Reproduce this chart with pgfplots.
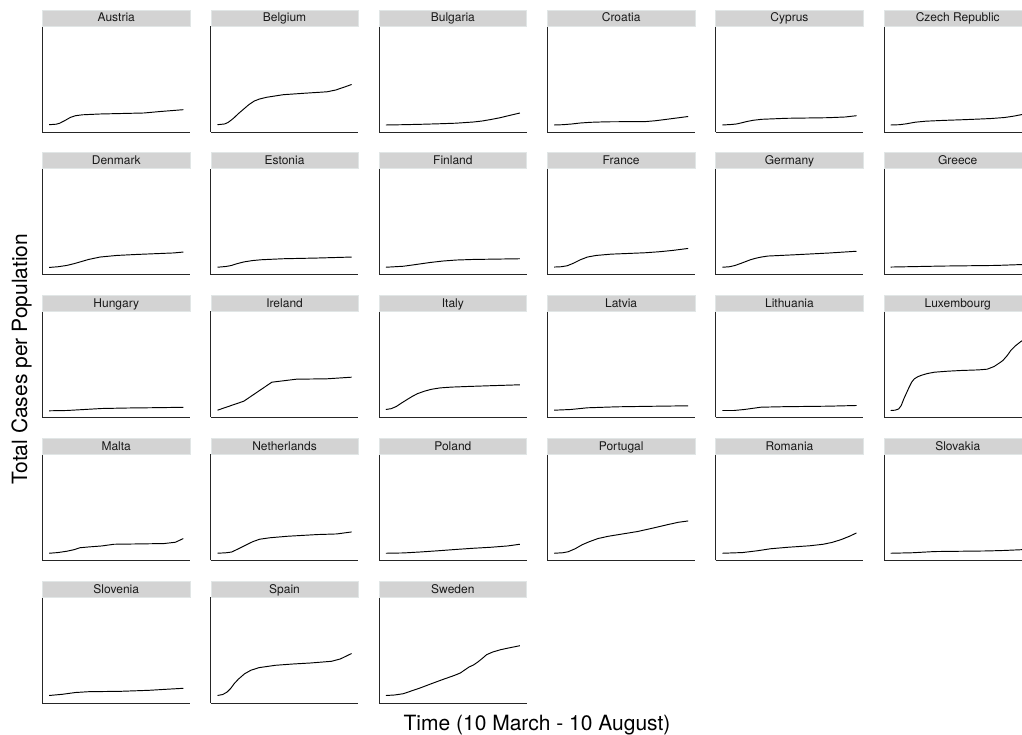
\documentclass[border=0pt]{standalone}
\usepackage{pgfplots}
\pgfplotsset{compat=1.18}
\usepackage{fontspec}
\setmainfont{TeX Gyre Heros}

\definecolor{stripgray}{RGB}{211,211,211}
\definecolor{stripedge}{RGB}{225,230,230}

% one facet: column, row, name, coordinates
\newcommand{\panel}[4]{%
\begin{axis}[
  at={({(42.5+168.3*#1)*1pt},{(602-142.75*#2)*1pt})},
  anchor=south west,
  scale only axis, width=147.5pt, height=106pt,
  xmin=-7.65, xmax=160.65, ymin=0, ymax=106,
  axis lines*=left,
  axis line style={black!85, line width=0.9pt},
  xtick=\empty, ytick=\empty,
  clip=false,
]
\fill[stripgray, draw=stripedge, line width=0.5pt] (rel axis cs:0,1) rectangle ([yshift=16pt]rel axis cs:1,1);
\node[anchor=base, inner sep=0, text=black!90, font=\fontsize{12}{14}\selectfont] at ([yshift=4pt]rel axis cs:0.5,1) {#3};
\addplot[black, line width=0.95pt, line join=round] coordinates {#4};
\end{axis}}

\begin{document}
\begin{tikzpicture}
% row 1
\panel{0}{0}{Austria}{(0,7.3) (8,7.8) (12,8.8) (18,11.5) (24,14.5) (30,16.3) (38,17.2) (58,18) (108,19) (127,20.5) (153,22.3)}
\panel{1}{0}{Belgium}{(0,7.3) (8,8) (12,9.5) (18,13.5) (24,18.5) (30,23) (36,27.5) (42,31) (48,33) (56,34.7) (75,37.3) (100,38.8) (125,40.2) (135,42) (145,45) (153,47.5)}
\panel{2}{0}{Bulgaria}{(0,7) (20,7.3) (40,7.7) (60,8.2) (80,8.8) (100,10) (110,11) (120,12.5) (130,14.2) (140,16.3) (153,19)}
\panel{3}{0}{Croatia}{(0,7) (10,7.3) (20,8) (30,9) (42,9.7) (60,10.2) (80,10.3) (104,10.4) (115,11.2) (125,12.3) (140,14) (153,15.5)}
\panel{4}{0}{Cyprus}{(0,7) (10,7.5) (16,8) (22,9.2) (28,10.5) (35,11.7) (45,12.7) (73,13.7) (121,14.3) (140,15) (153,16.3)}
\panel{5}{0}{Czech Republic}{(0,7) (10,7.3) (18,8.2) (28,9.8) (40,10.8) (60,11.6) (80,12.2) (100,12.9) (115,13.5) (130,14.5) (140,15.8) (153,18)}
% row 2
\panel{0}{1}{Denmark}{(0,7.3) (10,8) (20,9.3) (28,11) (36,13) (45,15.3) (58,17.7) (77,19.3) (100,20.3) (125,21.2) (142,21.8) (153,22.7)}
\panel{1}{1}{Estonia}{(0,7.5) (10,8.3) (16,9.3) (22,11) (30,12.8) (40,14.2) (50,15) (75,16) (113,16.7) (153,17.7)}
\panel{2}{1}{Finland}{(0,7.5) (20,8.5) (35,10.3) (50,12.2) (65,13.7) (80,14.7) (100,15.3) (153,16)}
\panel{3}{1}{France}{(0,7.7) (8,8) (15,9) (22,11.5) (30,15) (38,17.7) (48,19.3) (65,20.6) (85,21.3) (104,22) (120,23) (135,24.3) (153,26.3)}
\panel{4}{1}{Germany}{(0,7.5) (8,8) (14,9.2) (20,11) (26,13) (32,15) (38,16.5) (45,17.8) (52,18.7) (83,20) (121,21.7) (153,23.5)}
\panel{5}{1}{Greece}{(0,7.7) (30,8.2) (60,8.7) (90,9) (120,9.3) (153,10.3)}
% row 3
\panel{0}{2}{Hungary}{(0,6.7) (20,7) (40,8) (60,9) (90,9.5) (120,9.8) (153,10.2)}
\panel{1}{2}{Ireland}{(0,7.3) (30,16.3) (62,35.3) (90,38.3) (125,38.7) (153,40.3)}
\panel{2}{2}{Italy}{(0,8) (6,8.8) (12,11) (18,14.5) (24,17.8) (30,21) (36,23.8) (44,26.3) (52,28.2) (62,29.6) (75,30.4) (93,31) (120,31.8) (153,32.7)}
\panel{3}{2}{Latvia}{(0,7.3) (19,8) (38,9.7) (72,10.7) (110,11.2) (153,11.7)}
\panel{4}{2}{Lithuania}{(0,7) (13,7) (25,8) (44,10.3) (70,10.8) (90,11) (120,11.3) (153,12)}
\panel{5}{2}{Luxembourg}{(0,7) (5,7.3) (9,8.5) (12,12) (15,18.7) (18,24.5) (21,30.3) (24,35.5) (27,38.7) (31,40.8) (35,42.2) (42,44) (50,45.3) (65,46.3) (80,47) (100,47.6) (110,48.3) (118,51) (124,54.5) (128,57) (133,62) (137,67) (142,71.5) (149,76.3) (153,78)}
% row 4
\panel{0}{3}{Malta}{(0,7) (10,7.7) (20,9) (28,10.5) (35,12.5) (45,13.3) (60,14.3) (74,16) (100,16.3) (131,16.7) (144,18) (153,21.7)}
\panel{1}{3}{Netherlands}{(0,7) (10,7.5) (16,8.2) (24,11.5) (32,15) (40,18.5) (48,21) (60,22.5) (80,24) (114,25.7) (136,26.3) (153,28.3)}
\panel{2}{3}{Poland}{(0,7) (20,7.3) (40,8.3) (60,9.5) (80,10.8) (100,12) (120,13) (139,14.3) (153,16)}
\panel{3}{3}{Portugal}{(0,7) (10,7.5) (16,8.5) (24,11.5) (32,15.5) (40,18.5) (50,21.7) (62,24) (76,26) (95,28.7) (112,32) (130,35.7) (142,38) (153,39.3)}
\panel{4}{3}{Romania}{(0,7) (23,7.7) (40,9.5) (55,11.5) (75,13) (100,14.5) (115,16) (125,17.8) (135,20.5) (145,24) (153,27.3)}
\panel{5}{3}{Slovakia}{(0,7) (25,7.5) (50,8.7) (80,9) (110,9.3) (130,9.8) (153,10.7)}
% row 5
\panel{0}{4}{Slovenia}{(0,7.5) (15,8.7) (30,10.5) (45,11.3) (82,11.7) (114,12.7) (135,13.8) (153,14.7)}
\panel{1}{4}{Spain}{(0,7.5) (6,8.5) (11,11) (15,14.5) (19,19.3) (24,24) (31,29.3) (38,32.7) (47,35.3) (66,37.7) (86,39) (106,40) (130,41.7) (140,44) (146,46.5) (153,49.5)}
\panel{2}{4}{Sweden}{(0,7.5) (10,8) (20,9.3) (30,12.3) (40,15.3) (52,19.3) (65,23.5) (78,27.5) (85,30) (90,33) (95,36) (100,38) (105,41) (110,44.5) (115,48.3) (122,51) (131,53.3) (140,55) (153,57.3)}

\node[rotate=90, anchor=base, inner sep=0, font=\fontsize{21}{25}\selectfont] at (27pt,375pt) {Total Cases per Population};
\node[anchor=base, inner sep=0, font=\fontsize{21}{25}\selectfont] at (537pt,4pt) {Time (10 March - 10 August)};

\pgfresetboundingbox
\path[use as bounding box] (0,0) rectangle (1022pt,734pt);
\end{tikzpicture}
\end{document}
